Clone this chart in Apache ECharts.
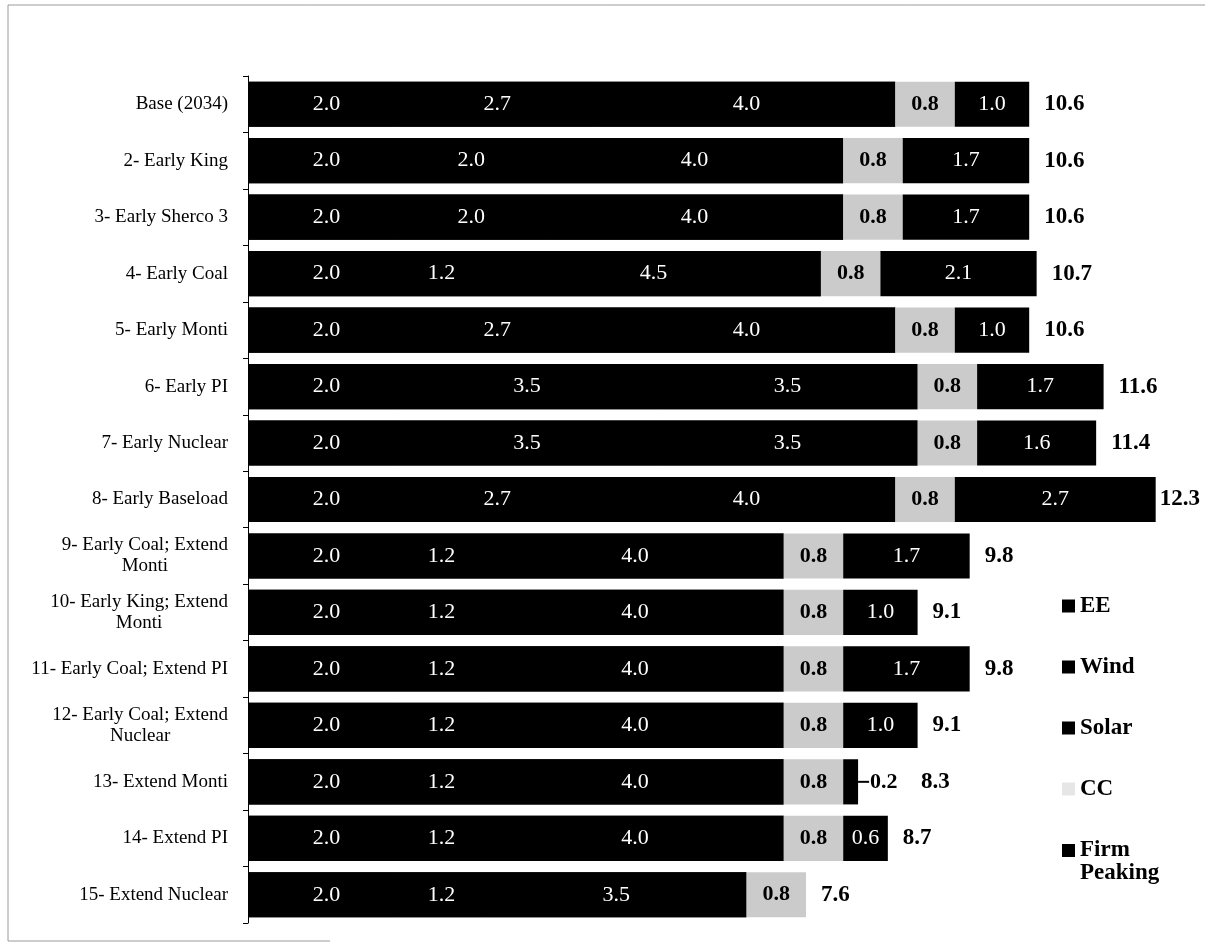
<!DOCTYPE html>
<html>
<head>
<meta charset="utf-8">
<script src="https://cdn.jsdelivr.net/npm/echarts@6/dist/echarts.min.js"></script>
<style>
  html, body { margin: 0; padding: 0; background: #fff; }
  #chart { width: 1205px; height: 945px; }
</style>
</head>
<body>
<div id="chart"></div>
<script>
// scenario names (top to bottom)
const categories = [
  'Base (2034)', '2- Early King', '3- Early Sherco 3', '4- Early Coal', '5- Early Monti',
  '6- Early PI', '7- Early Nuclear', '8- Early Baseload', '9- Early Coal; Extend\nMonti',
  '10- Early King; Extend\nMonti', '11- Early Coal; Extend PI', '12- Early Coal; Extend\nNuclear',
  '13- Extend Monti', '14- Extend PI', '15- Extend Nuclear'
];
const ee    = [2.0, 2.0, 2.0, 2.0, 2.0, 2.0, 2.0, 2.0, 2.0, 2.0, 2.0, 2.0, 2.0, 2.0, 2.0];
const wind  = [2.7, 2.0, 2.0, 1.2, 2.7, 3.5, 3.5, 2.7, 1.2, 1.2, 1.2, 1.2, 1.2, 1.2, 1.2];
const solar = [4.0, 4.0, 4.0, 4.5, 4.0, 3.5, 3.5, 4.0, 4.0, 4.0, 4.0, 4.0, 4.0, 4.0, 3.5];
const cc    = [0.8, 0.8, 0.8, 0.8, 0.8, 0.8, 0.8, 0.8, 0.8, 0.8, 0.8, 0.8, 0.8, 0.8, 0.8];
const firm  = [1.0, 1.7, 1.7, 2.1, 1.0, 1.7, 1.6, 2.7, 1.7, 1.0, 1.7, 1.0, 0.2, 0.6, null];
const totals = [10.6, 10.6, 10.6, 10.7, 10.6, 11.6, 11.4, 12.3, 9.8, 9.1, 9.8, 9.1, 8.3, 8.7, 7.6];

const FONT = '"Liberation Serif", "DejaVu Serif", serif';

const chart = echarts.init(document.getElementById('chart'));

const whiteLabel = {
  show: true,
  position: 'inside',
  color: '#fff',
  fontFamily: FONT,
  fontSize: 22,
  formatter: p => p.value == null ? '' : Number(p.value).toFixed(1)
};

// solid black strip under EE+Wind+Solar so the antialiased seams between them disappear
const blackRun = ee.map((v, i) => +(v + wind[i] + solar[i]).toFixed(1));

// tiny firm peaking values get pushed outside the bar with a short leader
const firmData = firm.map(v => {
  if (v != null && v < 0.4) {
    return {
      value: v,
      label: {
        position: 'right',
        distance: 0,
        formatter: '{ln|}{v|' + v.toFixed(1) + '}',
        rich: {
          ln: { width: 11, height: 2, backgroundColor: '#000' },
          v: { color: '#000', fontFamily: FONT, fontSize: 22, fontWeight: 'bold', padding: [0, 0, 0, 1] }
        }
      }
    };
  }
  return v;
});

// totals sit after the stack end; a couple of rows need a different gap
const totalGap = { 7: 4, 12: 63 };
const totalData = totals.map((t, i) => totalGap[i] != null
  ? { value: 0, label: { distance: totalGap[i] } }
  : 0);

chart.setOption({
  animation: false,
  graphic: [{
    type: 'polyline',
    shape: { points: [[330, 941], [8, 941], [8, 5], [1205, 5]] },
    style: { stroke: '#9a9a9a', lineWidth: 1, fill: null }
  }],
  legend: {
    orient: 'vertical',
    left: 1057,
    top: 589,
    itemWidth: 13,
    itemHeight: 13,
    itemGap: 37,
    icon: 'rect',
    textStyle: {
      color: '#000',
      fontFamily: FONT,
      fontSize: 23,
      fontWeight: 'bold',
      lineHeight: 24,
      rich: {
        a: { fontFamily: FONT, fontSize: 23, fontWeight: 'bold', color: '#000', lineHeight: 24 },
        b: { fontFamily: FONT, fontSize: 23, fontWeight: 'bold', color: '#000', lineHeight: 1, verticalAlign: 'top' }
      }
    },
    // second word hangs under the first so the marker lines up with "Firm"
    formatter: name => name === 'Firm Peaking' ? '{a|Firm}\n{b|Peaking}' : name,
    data: [
      'EE', 'Wind', 'Solar',
      { name: 'CC', itemStyle: { color: '#e6e6e6' } },
      'Firm Peaking'
    ]
  },
  grid: { left: 248, right: 27, top: 76, bottom: 22 },
  xAxis: { type: 'value', min: 0, max: 12.5, show: false },
  yAxis: {
    type: 'category',
    inverse: true,
    data: categories,
    axisLine: { lineStyle: { color: '#000', width: 1 } },
    axisTick: { show: true, length: 5, lineStyle: { color: '#000', width: 1 } },
    axisLabel: {
      margin: 20,
      color: '#000',
      fontFamily: FONT,
      fontSize: 19,
      lineHeight: 21,
      formatter: v => v.split('\n').map(s => '{c|' + s + '}').join('\n'),
      rich: {
        c: { align: 'center', color: '#000', fontFamily: FONT, fontSize: 19, lineHeight: 21 }
      }
    }
  },
  series: [
    {
      name: 'underlay', type: 'bar', stack: 'u', z: 1, silent: true,
      barCategoryGap: '20%', barGap: '-100%',
      itemStyle: { color: '#000' }, data: blackRun
    },
    {
      name: 'EE', type: 'bar', stack: 'a', z: 2, itemStyle: { color: '#000' },
      label: Object.assign({}, whiteLabel, { offset: [4, 0] }), data: ee
    },
    { name: 'Wind', type: 'bar', stack: 'a', z: 2, itemStyle: { color: '#000' }, label: whiteLabel, data: wind },
    { name: 'Solar', type: 'bar', stack: 'a', z: 2, itemStyle: { color: '#000' }, label: whiteLabel, data: solar },
    {
      name: 'CC', type: 'bar', stack: 'a', z: 2,
      itemStyle: { color: '#cbcbcb' },
      label: Object.assign({}, whiteLabel, { color: '#000', fontWeight: 'bold' }),
      data: cc
    },
    { name: 'Firm Peaking', type: 'bar', stack: 'a', z: 2, itemStyle: { color: '#000' }, label: whiteLabel, data: firmData },
    {
      name: 'Total', type: 'bar', stack: 'a', z: 2,
      itemStyle: { color: 'transparent' },
      label: {
        show: true,
        position: 'right',
        distance: 15,
        color: '#000',
        fontFamily: FONT,
        fontSize: 23,
        fontWeight: 'bold',
        formatter: p => totals[p.dataIndex].toFixed(1)
      },
      data: totalData
    }
  ]
});
</script>
</body>
</html>
